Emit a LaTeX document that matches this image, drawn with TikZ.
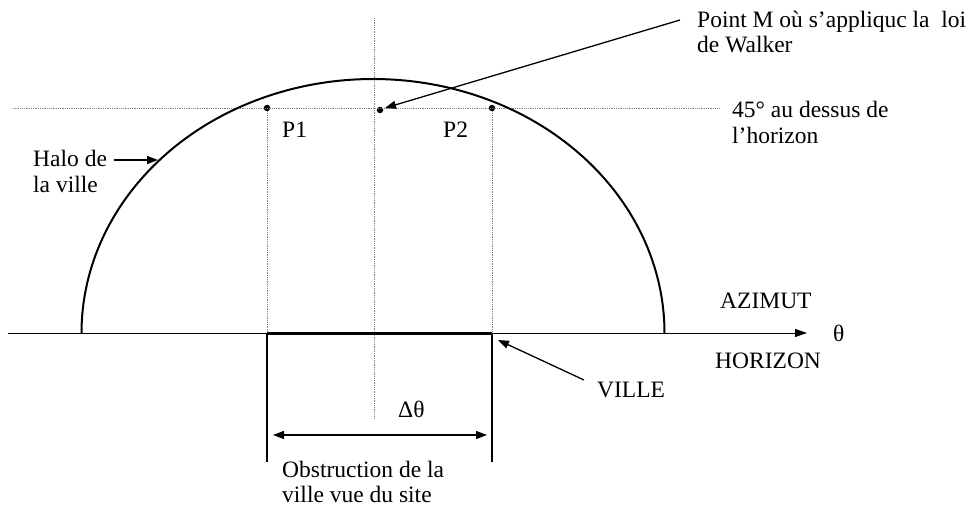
\documentclass[tikz,border=0pt]{standalone}
\usepackage{fontspec}
\setmainfont{Liberation Serif}
\usetikzlibrary{arrows.meta}
\tikzset{
  lbl/.style={anchor=base west, inner sep=0pt, font=\fontsize{23.5}{25}\selectfont},
  guide/.style={gray, line width=0.8pt, densely dotted},
  pointer/.style={line width=1.3pt, -{Triangle[length=11pt,width=8pt]}},
  dotpt/.style={circle, fill=black, inner sep=0pt, minimum size=6.5pt},
}
\begin{document}
\begin{tikzpicture}[x=1pt,y=-1pt]
\useasboundingbox (0,0) rectangle (972,508);
% coordinates
\coordinate (hL) at (8,333);
\coordinate (hR) at (807,333);
\coordinate (gL) at (13,108.5);
\coordinate (gR) at (720,108.5);
\coordinate (vT) at (374,18);
\coordinate (vB) at (374,418);
\coordinate (b1) at (267,333);
\coordinate (b2) at (492,333);
\coordinate (c1) at (267,462);
\coordinate (c2) at (492,462);
\coordinate (d1) at (273,435);
\coordinate (d2) at (487,435);
\coordinate (mS) at (680,20);
\coordinate (mE) at (385,108);
\coordinate (hS) at (114,160);
\coordinate (hE) at (158,160);
\coordinate (vS) at (584,380);
\coordinate (vE) at (498,340);
% dots
\node[dotpt] (P1) at (267,108) {};
\node[dotpt] (P2) at (492,108) {};
\node[dotpt] (M) at (380,110) {};
% guide lines
\draw[guide] (gL) -- (gR);
\draw[guide] (vT) -- (vB);
\draw[guide] (P1) -- (b1);
\draw[guide] (P2) -- (b2);
% horizon
\draw[line width=1pt, -{Triangle[length=12pt,width=8pt]}] (hL) -- (hR);
% halo
\draw[line width=2pt] plot[domain=180:0, samples=120, smooth] ({373+291.5*cos(\x)},{333-254*sin(\x)});
% city
\draw[line width=3pt] (b1) -- (b2);
\draw[line width=1.6pt] (b1) -- (c1);
\draw[line width=1.6pt] (b2) -- (c2);
\draw[line width=1.3pt, {Triangle[length=11pt,width=8pt]}-{Triangle[length=11pt,width=8pt]}] (d1) -- (d2);
% pointers
\draw[pointer] (mS) -- (mE);
\draw[pointer] (hS) -- (hE);
\draw[pointer] (vS) -- (vE);
% labels
\node[lbl] (tM1) at (697,28) {Point M où s’appliquc la\ \ loi};
\node[lbl] (tM2) at (697,53) {de Walker};
\node[lbl] (t451) at (732,118) {45° au dessus de};
\node[lbl] (t452) at (732,143) {l’horizon};
\node[lbl] (th1) at (33,167) {Halo de};
\node[lbl] (th2) at (33,193) {la ville};
\node[lbl] (tP1) at (282,138) {P1};
\node[lbl] (tP2) at (443,138) {P2};
\node[lbl] (taz) at (720,308) {AZIMUT};
\node[lbl] (tho) at (715,368) {HORIZON};
\node[lbl] (tth) at (833,341) {θ};
\node[lbl] (tvi) at (597,397) {VILLE};
\node[lbl] (tdt) at (398,417) {Δθ};
\node[lbl] (to1) at (282,477) {Obstruction de la};
\node[lbl] (to2) at (282,502) {ville vue du site};
\end{tikzpicture}
\end{document}
